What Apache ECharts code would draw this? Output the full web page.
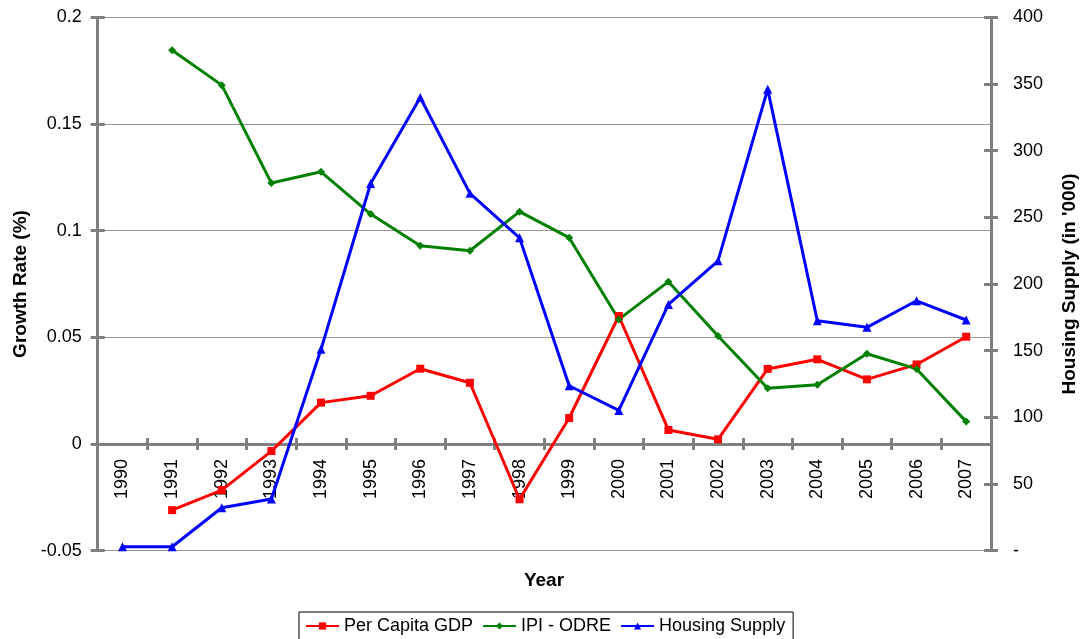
<!DOCTYPE html>
<html>
<head>
<meta charset="utf-8">
<script src="https://cdn.jsdelivr.net/npm/echarts@6/dist/echarts.min.js"></script>
<style>
  html, body { margin: 0; padding: 0; background: #fff; }
  #chart { width: 1080px; height: 639px; }
</style>
</head>
<body>
<div id="chart"></div>
<script>
// Years on the category axis
const years = ['1990', '1991', '1992', '1993', '1994', '1995', '1996', '1997', '1998',
               '1999', '2000', '2001', '2002', '2003', '2004', '2005', '2006', '2007'];

// Growth rates (left axis)
const perCapitaGDP = [null, -0.031, -0.0216, -0.0033, 0.0194, 0.0226, 0.0353, 0.0287, -0.0259,
                      0.0122, 0.060, 0.0066, 0.0022, 0.0352, 0.0397, 0.0303, 0.0373, 0.0503];
const ipiOdre = [null, 0.1846, 0.1682, 0.1223, 0.1276, 0.1078, 0.0929, 0.0906, 0.1089,
                 0.0967, 0.0584, 0.0761, 0.0506, 0.0261, 0.0278, 0.0423, 0.0352, 0.0105];

// Housing supply in thousands (right axis)
const housingSupply = [3, 3, 32.2, 38.8, 151, 275.4, 339.9, 268, 234.6,
                       123.7, 105.2, 184.7, 217.4, 346.1, 172.4, 167.5, 187.4, 173];

// Axis ranges
const leftAxis = { min: -0.05, max: 0.2, step: 0.05 };
const rightAxis = { min: 0, max: 400, step: 50 };

const FONT = 'Liberation Sans, Arial, Helvetica, sans-serif';
const AXIS_GREY = '#808080';

const chart = echarts.init(document.getElementById('chart'), null, { renderer: 'canvas' });

const grid = {
  left: 97.7, right: 89, top: 17.3, bottom: 88.3,
  containLabel: false, outerBoundsMode: 'none'
};

// The year axis sits on the zero line of the growth-rate scale:
// shift it up from the bottom edge by the share of the plot below zero.
const plotHeight = 639 - grid.top - grid.bottom;
const zeroShift = -plotHeight * (0 - leftAxis.min) / (leftAxis.max - leftAxis.min);

// Second copy of an axis that only draws the inner half of the crossing tick marks
function innerTickY(position, range) {
  return {
    type: 'value', position: position, min: range.min, max: range.max, interval: range.step,
    axisLine: { show: false, onZero: false },
    axisTick: { show: true, inside: true, length: 7, lineStyle: { color: AXIS_GREY, width: 3 } },
    axisLabel: { show: false },
    splitLine: { show: false }
  };
}

const option = {
  animation: false,
  backgroundColor: '#fff',
  textStyle: { fontFamily: FONT },
  grid: grid,
  title: {
    text: 'Year',
    left: 544, top: 571, textAlign: 'center', padding: 0,
    textStyle: { fontFamily: FONT, fontSize: 19, fontWeight: 'bold', color: '#000' }
  },
  legend: {
    left: 299, top: 612,
    padding: [5, 8, 8, 6],
    itemGap: 9, itemWidth: 33, itemHeight: 9,
    borderColor: '#000', borderWidth: 1, borderRadius: 0,
    textStyle: { fontFamily: FONT, fontSize: 18, color: '#000' },
    data: ['Per Capita GDP', 'IPI - ODRE', 'Housing Supply']
  },
  xAxis: [
    {
      type: 'category', data: years, position: 'bottom', boundaryGap: true, offset: zeroShift,
      axisLine: { show: true, onZero: false, lineStyle: { color: AXIS_GREY, width: 3 } },
      axisTick: { show: true, interval: 0, length: 6, lineStyle: { color: AXIS_GREY, width: 3 } },
      axisLabel: { interval: 0, rotate: 90, margin: 15, fontSize: 18, color: '#000', fontFamily: FONT },
      splitLine: { show: false }
    },
    {
      type: 'category', data: years, position: 'bottom', boundaryGap: true, offset: zeroShift,
      axisLine: { show: false, onZero: false },
      axisTick: { show: true, inside: true, interval: 0, length: 6, lineStyle: { color: AXIS_GREY, width: 3 } },
      axisLabel: { show: false },
      splitLine: { show: false }
    }
  ],
  yAxis: [
    {
      type: 'value', position: 'left',
      min: leftAxis.min, max: leftAxis.max, interval: leftAxis.step,
      name: 'Growth Rate (%)', nameLocation: 'middle', nameGap: 66,
      nameTextStyle: { fontFamily: FONT, fontSize: 19, fontWeight: 'bold', color: '#000' },
      axisLine: { show: true, onZero: false, lineStyle: { color: AXIS_GREY, width: 3 } },
      axisTick: { show: true, length: 7, lineStyle: { color: AXIS_GREY, width: 3 } },
      axisLabel: {
        margin: 16, fontSize: 18, color: '#000', fontFamily: FONT,
        formatter: v => String(+v.toFixed(2))
      },
      splitLine: { show: true, lineStyle: { color: '#999', width: 1 } }
    },
    {
      type: 'value', position: 'right',
      min: rightAxis.min, max: rightAxis.max, interval: rightAxis.step,
      name: "Housing Supply (in '000)", nameLocation: 'middle', nameGap: 69,
      nameTextStyle: { fontFamily: FONT, fontSize: 19, fontWeight: 'bold', color: '#000' },
      axisLine: { show: true, onZero: false, lineStyle: { color: AXIS_GREY, width: 3 } },
      axisTick: { show: true, length: 7, lineStyle: { color: AXIS_GREY, width: 3 } },
      axisLabel: {
        margin: 22, fontSize: 18, color: '#000', fontFamily: FONT,
        formatter: v => (v === 0 ? '-' : String(v))
      },
      splitLine: { show: false }
    },
    innerTickY('left', leftAxis),
    innerTickY('right', rightAxis)
  ],
  series: [
    {
      name: 'Per Capita GDP', type: 'line', xAxisIndex: 0, yAxisIndex: 0,
      data: perCapitaGDP, symbol: 'rect', symbolSize: 8, showAllSymbol: true,
      itemStyle: { color: '#ff0000' }, lineStyle: { color: '#ff0000', width: 3 }
    },
    {
      name: 'IPI - ODRE', type: 'line', xAxisIndex: 0, yAxisIndex: 0,
      data: ipiOdre, symbol: 'diamond', symbolSize: 8, showAllSymbol: true,
      itemStyle: { color: '#008000' }, lineStyle: { color: '#008000', width: 3 }
    },
    {
      name: 'Housing Supply', type: 'line', xAxisIndex: 0, yAxisIndex: 1,
      data: housingSupply, symbol: 'triangle', symbolSize: 9, showAllSymbol: true,
      itemStyle: { color: '#0000ff' }, lineStyle: { color: '#0000ff', width: 3 }
    }
  ]
};

chart.setOption(option);
</script>
</body>
</html>
